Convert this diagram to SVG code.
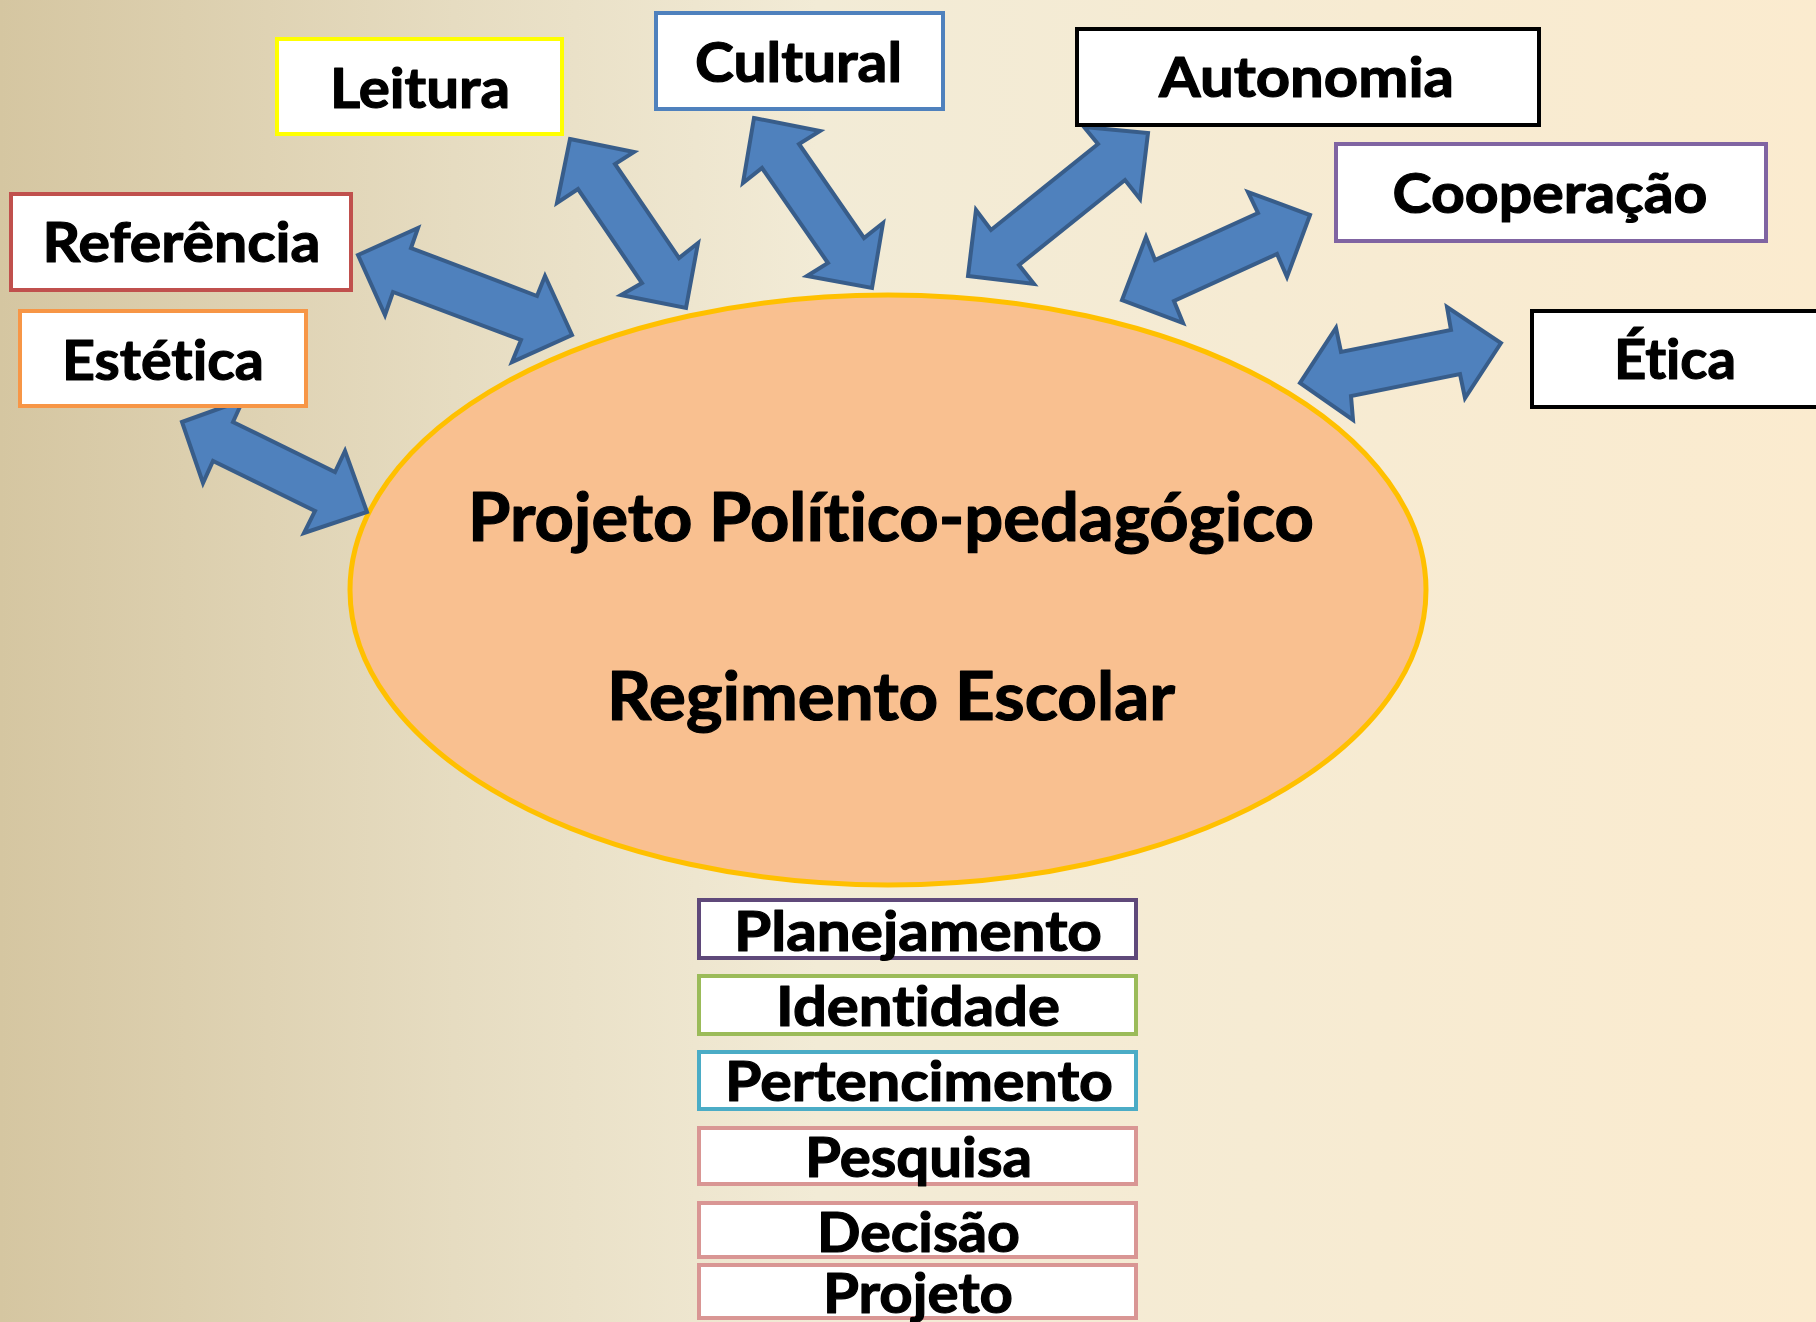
<svg xmlns="http://www.w3.org/2000/svg" width="1816" height="1322" viewBox="0 0 1816 1322">
<defs>
<linearGradient id="bg" x1="0" y1="0" x2="1" y2="0">
<stop offset="0" stop-color="#D5C6A1"/>
<stop offset="0.25" stop-color="#E6DCC1"/>
<stop offset="0.45" stop-color="#F2EBD6"/>
<stop offset="1" stop-color="#FBEBCF"/>
</linearGradient>
</defs>
<style>
.arrow{fill:#4F81BD;stroke:#385D8A;stroke-width:4;stroke-linejoin:miter}
.box{fill:#FFFFFF;stroke-width:4}
.lbl{font-family:Lato,"Open Sans","Liberation Sans",sans-serif;font-weight:bold;font-size:56px;fill:#000;stroke:#000;stroke-width:1.2px;stroke-linejoin:round;text-anchor:middle;font-variant-ligatures:none}
.big{font-size:66px}
</style>
<rect x="0" y="0" width="1816" height="1322" fill="url(#bg)"/>

<g id="center">
<ellipse cx="888" cy="590" rx="538" ry="295" fill="#F9C090" stroke="#FFC000" stroke-width="5"/>
<text class="lbl big" x="891" y="541" textLength="846" lengthAdjust="spacingAndGlyphs">Projeto Político-pedagógico</text>
<text class="lbl big" x="891" y="720" textLength="568" lengthAdjust="spacingAndGlyphs">Regimento Escolar</text>
</g>

<g id="connectors">
<polygon class="arrow" points="358,255 418,228 411,248 537,296 545,276 572,335 512,362 521,340 393,292 385,315"/>
<polygon class="arrow" points="570,139 634,152 615,164 679,258 698,243 686,308 621,295 642,283 578,189 557,203"/>
<polygon class="arrow" points="754,118 820,131 799,144 864,238 883,223 872,288 807,276 828,263 762,168 743,183"/>
<polygon class="arrow" points="1148,133 1140,199 1125,180 1019,265 1034,284 968,276 976,210 991,230 1098,144 1084,127"/>
<polygon class="arrow" points="1310,215 1287,277 1277,254 1174,301 1183,323 1122,300 1146,237 1155,260 1258,213 1248,192"/>
<polygon class="arrow" points="1501,343 1465,398 1460,374 1351,396 1353,420 1300,383 1336,328 1341,352 1451,330 1447,307"/>
<polygon class="arrow" points="182,422 243,400 233,422 335,472 345,451 367,512 304,533 315,511 213,461 203,483"/>
</g>

<g id="leitura">
<rect class="box" x="277" y="39" width="285" height="95" stroke="#FFFF00" stroke-width="5"/>
<text class="lbl" x="420" y="108" textLength="180" lengthAdjust="spacingAndGlyphs">Leitura</text>
</g>
<g id="referencia">
<rect class="box" x="11" y="194" width="340" height="96" stroke="#C0504D"/>
<text class="lbl" x="181.5" y="262" textLength="278" lengthAdjust="spacingAndGlyphs">Referência</text>
</g>
<g id="estetica">
<rect class="box" x="20" y="311" width="286" height="95" stroke="#F79646"/>
<text class="lbl" x="163" y="380" textLength="202" lengthAdjust="spacingAndGlyphs">Estética</text>
</g>
<g id="cultural">
<rect class="box" x="656" y="13" width="287" height="96" stroke="#4F81BD"/>
<text class="lbl" x="798.5" y="82" textLength="207" lengthAdjust="spacingAndGlyphs">Cultural</text>
</g>
<g id="autonomia">
<rect class="box" x="1077" y="29" width="462" height="96" stroke="#000000" stroke-width="5"/>
<text class="lbl" x="1306.5" y="97" textLength="295" lengthAdjust="spacingAndGlyphs">Autonomia</text>
</g>
<g id="cooperacao">
<rect class="box" x="1336" y="144" width="430" height="97" stroke="#8064A2"/>
<text class="lbl" x="1550" y="213" textLength="315" lengthAdjust="spacingAndGlyphs">Cooperação</text>
</g>
<g id="etica">
<rect class="box" x="1532" y="311" width="300" height="96" stroke="#000000" stroke-width="5"/>
<text class="lbl" x="1675" y="379" textLength="122" lengthAdjust="spacingAndGlyphs">Ética</text>
</g>

<g id="planejamento">
<rect class="box" x="699" y="900" width="437" height="58" stroke="#5F497A"/>
<text class="lbl" x="918" y="951" textLength="368" lengthAdjust="spacingAndGlyphs">Planejamento</text>
</g>
<g id="identidade">
<rect class="box" x="699" y="976" width="437" height="58" stroke="#9BBB59"/>
<text class="lbl" x="918" y="1026" textLength="284" lengthAdjust="spacingAndGlyphs">Identidade</text>
</g>
<g id="pertencimento">
<rect class="box" x="699" y="1052" width="437" height="57" stroke="#4BACC6"/>
<text class="lbl" x="919" y="1101" textLength="388" lengthAdjust="spacingAndGlyphs">Pertencimento</text>
</g>
<g id="pesquisa">
<rect class="box" x="699" y="1128" width="437" height="56" stroke="#D99694"/>
<text class="lbl" x="918.5" y="1177" textLength="227" lengthAdjust="spacingAndGlyphs">Pesquisa</text>
</g>
<g id="decisao">
<rect class="box" x="699" y="1203" width="437" height="54" stroke="#D99694"/>
<text class="lbl" x="918.5" y="1252" textLength="203" lengthAdjust="spacingAndGlyphs">Decisão</text>
</g>
<g id="projeto">
<rect class="box" x="699" y="1265" width="437" height="53" stroke="#D99694"/>
<text class="lbl" x="918" y="1313" textLength="190" lengthAdjust="spacingAndGlyphs">Projeto</text>
</g>
</svg>
